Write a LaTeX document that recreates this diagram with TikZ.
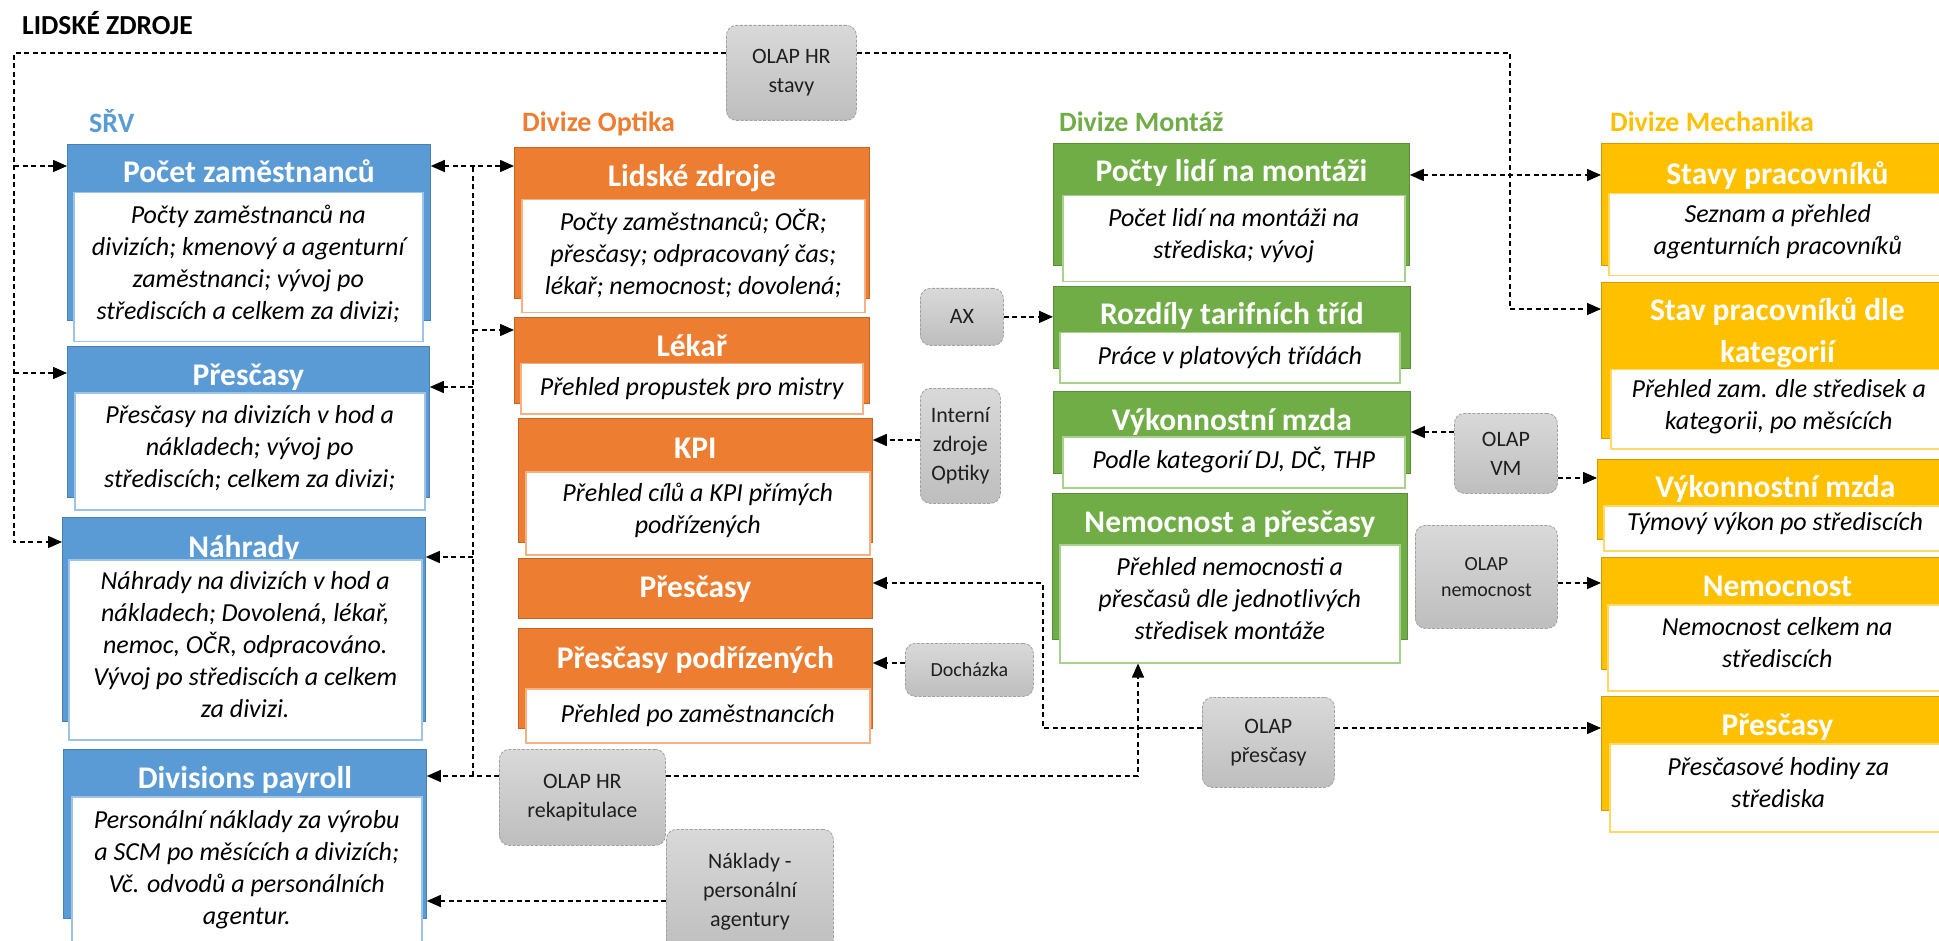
\documentclass[tikz,border=0pt]{standalone}
\usepackage{fontspec}
\setmainfont{Carlito}
\usetikzlibrary{arrows.meta}
\definecolor{cblue}{HTML}{5B9BD5}
\definecolor{corange}{HTML}{ED7D31}
\definecolor{cgreen}{HTML}{70AD47}
\definecolor{cgold}{HTML}{FFC000}
\definecolor{lblue}{HTML}{9DC3E6}
\definecolor{lorange}{HTML}{F4B183}
\definecolor{lgreen}{HTML}{A9D18E}
\definecolor{lgold}{HTML}{FFD966}
\definecolor{gtop}{HTML}{D9D9D9}
\definecolor{gbot}{HTML}{BEBEBE}
\definecolor{gedge}{HTML}{A0A0A0}
\tikzset{
  outerbox/.style={draw=#1!82!black, fill=#1, line width=0.8pt, inner sep=0pt, anchor=north west},
  innerbox/.style={draw=#1, fill=white, line width=1.5pt, inner sep=0pt, anchor=north west},
  ttl/.style={text=white, font=\bfseries\fontsize{31.5}{38}\selectfont, inner sep=0pt, anchor=base},
  bodytxt/.style={font=\itshape\fontsize{26}{32}\selectfont, inner sep=0pt, align=center, text=black,
     execute at begin node=\strut, execute at end node=\strut},
  graybox/.style={rounded corners=10pt, top color=gtop, bottom color=gbot, draw=gedge,
     dash pattern=on 3pt off 1.5pt, line width=0.8pt, inner sep=0pt, anchor=north west,
     font=\fontsize{22}{29}\selectfont, align=center, text=black!88},
  dl/.style={draw=black, line width=1.5pt, dash pattern=on 5pt off 3.5pt},
  arr/.style={-{Triangle[length=14pt,width=12pt]}},
  darr/.style={{Triangle[length=14pt,width=12pt]}-{Triangle[length=14pt,width=12pt]}},
  seclabel/.style={font=\bfseries\fontsize{28}{33}\selectfont, anchor=base west, inner sep=0pt},
}
\newcommand{\obox}[6]{\node[outerbox=#2, minimum width={(#5-#3)*1pt}, minimum height={(#6-#4)*1pt}] (#1) at (#3,#4) {};}
\newcommand{\ibox}[6]{\node[innerbox=#2, minimum width={(#5-#3)*1pt}, minimum height={(#6-#4)*1pt}] (#1) at (#3,#4) {};}
\newcommand{\gbox}[6]{\node[graybox, minimum width={(#5-#3)*1pt}, minimum height={(#6-#4)*1pt}] (#1) at (#3,#4) {#2};}
\begin{document}
\begin{tikzpicture}[x=1pt,y=-1pt]
\useasboundingbox (0,0) rectangle (1939,941);
\clip (0,0) rectangle (1939,941);
\fill[white] (0,0) rectangle (1939,941);

% headings
\node[seclabel, text=black, font=\bfseries\fontsize{27.5}{32}\selectfont] (head) at (22,35) {LIDSKÉ ZDROJE};
\node[seclabel, text=cblue] (lsrv) at (89,133) {SŘV};
\node[seclabel, text=corange] (lopt) at (522,132) {Divize Optika};
\node[seclabel, text=cgreen] (lmon) at (1059,132) {Divize Montáž};
\node[seclabel, text=cgold] (lmech) at (1610,132) {Divize Mechanika};

% ---------- SRV ----------
\obox{A1}{cblue}{67}{144}{430}{320}
\node[ttl] (A1t) at (A1.north |- 0,183) {Počet zaměstnanců};
\ibox{A1i}{lblue}{73}{192}{422}{341}
\node[bodytxt] (A1b) at (A1i.center) {Počty zaměstnanců na\\divizích; kmenový a agenturní\\zaměstnanci; vývoj po\\střediscích a celkem za divizi;};

\obox{A2}{cblue}{67}{346}{429}{497}
\node[ttl] (A2t) at (A2.north |- 0,385) {Přesčasy};
\ibox{A2i}{lblue}{74}{392}{424}{509}
\node[bodytxt] (A2b) at (A2i.center) {Přesčasy na divizích v hod a\\nákladech; vývoj po\\střediscích; celkem za divizi;};

\obox{A3}{cblue}{62}{517}{425}{721}
\node[ttl] (A3t) at (A3.north |- 0,557) {Náhrady};
\ibox{A3i}{lblue}{68}{559}{421}{739}
\node[bodytxt] (A3b) at (A3i.center) {Náhrady na divizích v hod a\\nákladech; Dovolená, lékař,\\nemoc, OČR, odpracováno.\\Vývoj po střediscích a celkem\\za divizi.};

\obox{A4}{cblue}{63}{749}{426}{918}
\node[ttl] (A4t) at (A4.north |- 0,788) {Divisions payroll};
\ibox{A4i}{lblue}{71}{796}{421}{947}
\node[bodytxt] (A4b) at (A4i.center) {Personální náklady za výrobu\\a SCM po měsících a divizích;\\Vč. odvodů a personálních\\agentur.};

% ---------- Optika ----------
\obox{B1}{corange}{514}{147}{869}{298}
\node[ttl] (B1t) at (B1.north |- 0,187) {Lidské zdroje};
\ibox{B1i}{lorange}{521}{199}{864}{312}
\node[bodytxt] (B1b) at (B1i.center) {Počty zaměstnanců; OČR;\\přesčasy; odpracovaný čas;\\lékař; nemocnost; dovolená;};

\obox{B2}{corange}{514}{317}{869}{403}
\node[ttl] (B2t) at (B2.north |- 0,357) {Lékař};
\ibox{B2i}{lorange}{520}{363}{862}{413}
\node[bodytxt] (B2b) at (B2i.center) {Přehled propustek pro mistry};

\obox{B3}{corange}{518}{418}{872}{542}
\node[ttl] (B3t) at (B3.north |- 0,458) {KPI};
\ibox{B3i}{lorange}{525}{471}{869}{554}
\node[bodytxt] (B3b) at (B3i.center) {Přehled cílů a KPI přímých\\podřízených};

\obox{B4}{corange}{518}{558}{872}{618}
\node[ttl] (B4t) at (B4.north |- 0,597) {Přesčasy};

\obox{B5}{corange}{518}{628}{872}{728}
\node[ttl] (B5t) at (B5.north |- 0,668) {Přesčasy podřízených};
\ibox{B5i}{lorange}{525}{688}{869}{742}
\node[bodytxt] (B5b) at (B5i.center) {Přehled po zaměstnancích};

% ---------- Montaz ----------
\obox{C1}{cgreen}{1053}{143}{1409}{265}
\node[ttl] (C1t) at (C1.north |- 0,182) {Počty lidí na montáži};
\ibox{C1i}{lgreen}{1062}{195}{1404}{281}
\node[bodytxt] (C1b) at (C1i.center) {Počet lidí na montáži na\\střediska; vývoj};

\obox{C2}{cgreen}{1053}{286}{1410}{368}
\node[ttl] (C2t) at (C2.north |- 0,325) {Rozdíly tarifních tříd};
\ibox{C2i}{lgreen}{1059}{332}{1399}{382}
\node[bodytxt] (C2b) at (C2i.center) {Práce v platových třídách};

\obox{C3}{cgreen}{1053}{391}{1410}{473}
\node[ttl] (C3t) at (C3.north |- 0,430) {Výkonnostní mzda};
\ibox{C3i}{lgreen}{1062}{436}{1404}{487}
\node[bodytxt] (C3b) at (C3i.center) {Podle kategorií DJ, DČ, THP};

\obox{C4}{cgreen}{1052}{493}{1407}{639}
\node[ttl] (C4t) at (C4.north |- 0,532) {Nemocnost a přesčasy};
\ibox{C4i}{lgreen}{1059}{544}{1399}{662}
\node[bodytxt] (C4b) at (C4i.center) {Přehled nemocnosti a\\přesčasů dle jednotlivých\\středisek montáže};

% ---------- Mechanika ----------
\obox{D1}{cgold}{1601}{143}{1953}{265}
\node[ttl] (D1t) at (D1.north |- 0,185) {Stavy pracovníků};
\ibox{D1i}{lgold}{1608}{193}{1946}{275}
\node[bodytxt] (D1b) at (D1i.center) {Seznam a přehled\\agenturních pracovníků};

\obox{D2}{cgold}{1601}{282}{1953}{438}
\node[ttl, anchor=center, align=center, font=\bfseries\fontsize{31.5}{42}\selectfont,
  execute at begin node=\strut, execute at end node=\strut] (D2t) at (D2.north |- 0,336) {Stav pracovníků dle\\kategorií};
\ibox{D2i}{lgold}{1610}{369}{1946}{448}
\begin{scope}
\clip (1601,369) rectangle (1953,437);
\node[bodytxt] (D2b) at (D2i.center) {Přehled zam. dle středisek a\\kategorii, po měsících};
\end{scope}

\obox{D3}{cgold}{1597}{459}{1953}{539}
\node[ttl] (D3t) at (D3.north |- 0,497) {Výkonnostní mzda};
\ibox{D3i}{lgold}{1603}{505}{1946}{550}
\begin{scope}
\clip (1597,505) rectangle (1953,539);
\node[bodytxt] (D3b) at (1775,524) {Týmový výkon po střediscích};
\end{scope}

\obox{D4}{cgold}{1601}{557}{1953}{669}
\node[ttl] (D4t) at (D4.north |- 0,596) {Nemocnost};
\ibox{D4i}{lgold}{1607}{604}{1946}{690}
\node[bodytxt] (D4b) at (D4i.center) {Nemocnost celkem na\\střediscích};

\obox{D5}{cgold}{1601}{696}{1953}{810}
\node[ttl] (D5t) at (D5.north |- 0,735) {Přesčasy};
\ibox{D5i}{lgold}{1609}{743}{1946}{831}
\node[bodytxt] (D5b) at (D5i.center) {Přesčasové hodiny za\\střediska};

% ---------- gray sources ----------
\gbox{stavy}{OLAP HR\\stavy}{726}{25}{856}{120}
\gbox{ax}{AX}{920}{288}{1003}{345}
\gbox{interni}{Interní\\zdroje\\Optiky}{920}{388}{1000}{503}
\node[graybox, font=\fontsize{20}{26}\selectfont, minimum width=128pt, minimum height=53pt] (doch) at (905,643) {Docházka};
\gbox{rekap}{OLAP HR\\rekapitulace}{499}{749}{665}{845}
\gbox{naklady}{Náklady -\\personální\\agentury}{666}{829}{833}{953}
\gbox{ovm}{OLAP\\VM}{1454}{413}{1557}{493}
\node[graybox, font=\fontsize{20}{26}\selectfont, minimum width=142pt, minimum height=103pt] (onem) at (1415,525) {OLAP\\nemocnost};
\gbox{opresc}{OLAP\\přesčasy}{1202}{697}{1334}{787}

% ---------- connectors ----------
\coordinate (tl) at (14,53);
\coordinate (tr) at (1510,53);
\coordinate (lb) at (14,542);
\coordinate (l1) at (14,166);
\coordinate (l2) at (14,373);
\coordinate (trb) at (1510,309);
\coordinate (m1) at (1500,175);
\coordinate (rv) at (473,776);
\coordinate (rvtop) at (473,166);
\coordinate (r1) at (473,557);
\coordinate (r2) at (473,387);
\coordinate (r3) at (473,330);
\coordinate (rb) at (1138,776);
\coordinate (nk) at (700,901);
\coordinate (ik) at (900,440);
\coordinate (dk) at (900,663);
\coordinate (pb1) at (1043,728);
\coordinate (pb2) at (1043,583);
\coordinate (vk) at (1430,432);
\coordinate (vk2) at (1570,478);

\draw[dl,arr] (stavy.west |- tl) -- (tl) -- (lb) -- (A3.west |- lb);
\draw[dl,arr] (l1) -- (A1.west |- l1);
\draw[dl,arr] (l2) -- (A2.west |- l2);
\draw[dl,arr] (stavy.east |- tr) -- (tr) -- (trb) -- (D2.west |- trb);
\draw[dl,darr] (C1.east |- m1) -- (D1.west |- m1);

\draw[dl,arr] (rekap.west |- rv) -- (rv) -- (A4.east |- rv);
\draw[dl] (rv) -- (rvtop);
\draw[dl,arr] (r1) -- (A3.east |- r1);
\draw[dl,arr] (r2) -- (A2.east |- r2);
\draw[dl,arr] (r3) -- (B2.west |- r3);
\draw[dl,darr] (A1.east |- rvtop) -- (B1.west |- rvtop);
\draw[dl,arr] (rekap.east |- rv) -- (rb) -- (C4i.south -| rb);

\draw[dl,arr] (naklady.west |- nk) -- (A4.east |- nk);
\draw[dl,arr] (ax.east) -- (C2.west |- ax.east);
\draw[dl,arr] (interni.west |- ik) -- (B3.east |- ik);
\draw[dl,arr] (doch.west |- dk) -- (B5.east |- dk);
\draw[dl,arr] (opresc.west |- pb1) -- (pb1) -- (pb2) -- (B4.east |- pb2);
\draw[dl,arr] (opresc.east |- pb1) -- (D5.west |- pb1);
\draw[dl,arr] (ovm.west |- vk) -- (C3.east |- vk);
\draw[dl,arr] (ovm.east |- vk2) -- (D3.west |- vk2);
\draw[dl,arr] (onem.east |- pb2) -- (D4.west |- pb2);
\end{tikzpicture}
\end{document}
